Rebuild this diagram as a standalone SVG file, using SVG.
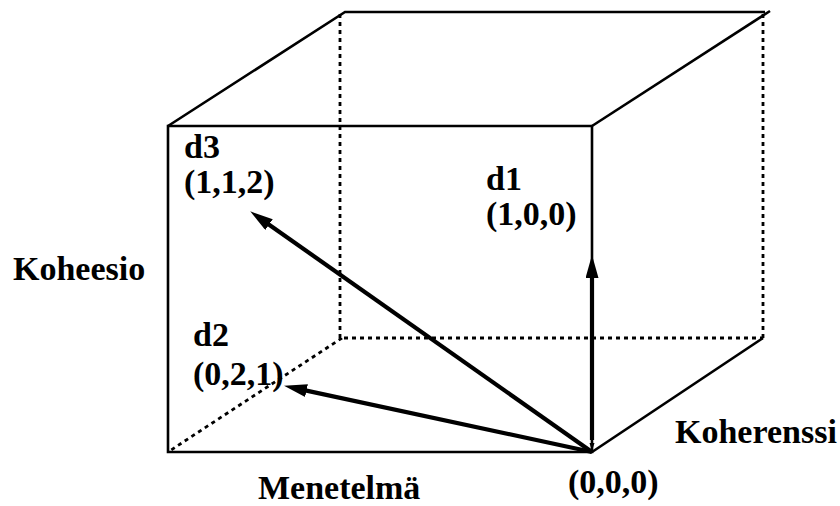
<svg xmlns="http://www.w3.org/2000/svg" width="840" height="506" viewBox="0 0 840 506">
<style>
.edge{fill:none;stroke:#000;stroke-width:2.6;stroke-linecap:butt}
.hid{fill:none;stroke:#000;stroke-width:2.8;stroke-dasharray:4,4}
.vec{fill:none;stroke:#000;stroke-width:4.2}
text{font-family:'Liberation Serif','Times New Roman',Times,'DejaVu Serif',serif;font-weight:bold;font-size:34px;fill:#000}
</style>
<defs>
<marker id="ah" markerUnits="userSpaceOnUse" markerWidth="26" markerHeight="14" refX="12" refY="6.5" orient="auto">
<path d="M0,0 L23,6.5 L0,13 z" fill="#000"/>
</marker>
</defs>
<rect width="840" height="506" fill="#fff"/>
<g id="cube">
<path class="hid" d="M340,14 L340,338 L763,338 M763,14 L763,338 M342,338 L168,452"/>
<path class="edge" d="M168,126 L592,126 L592,452 L168,452 Z"/>
<path class="edge" d="M168,126 L345,12 L765,12"/>
<path class="edge" d="M592,126 L770,11"/>
<path class="edge" d="M592,452 L763,338"/>
</g>
<g id="connectors">
<line class="vec" x1="592" y1="440" x2="592" y2="266" marker-end="url(#ah)"/>
<line class="vec" x1="592" y1="452" x2="259.2" y2="217.7" marker-end="url(#ah)"/>
<line class="vec" x1="592" y1="452" x2="294.8" y2="388.1" marker-end="url(#ah)"/>
<path d="M589.5,443 L594.5,443 L592,451 z" fill="#000"/>
</g>
<g id="d3"><text x="184" y="158">d3</text><text x="184" y="193">(1,1,2)</text></g>
<g id="d1"><text x="486" y="190">d1</text><text x="486" y="225">(1,0,0)</text></g>
<g id="d2"><text x="193" y="346">d2</text><text x="193" y="385">(0,2,1)</text></g>
<g id="axis-koheesio"><text x="13" y="280">Koheesio</text></g>
<g id="axis-menetelma"><text x="258" y="499">Menetelmä</text></g>
<g id="origin"><text x="568" y="493">(0,0,0)</text></g>
<g id="axis-koherenssi"><text x="675" y="443">Koherenssi</text></g>
</svg>
